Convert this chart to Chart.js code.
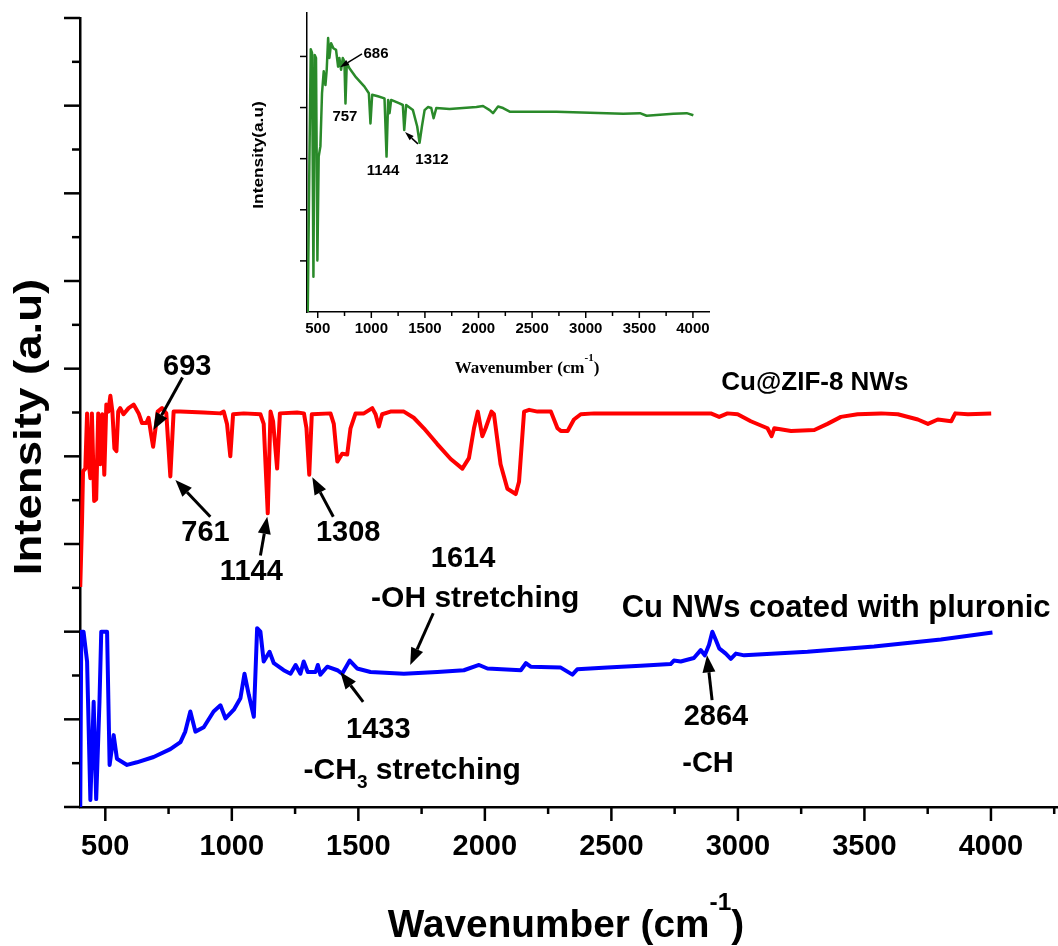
<!DOCTYPE html>
<html>
<head>
<meta charset="utf-8">
<title>FTIR spectra</title>
<script src="https://cdn.jsdelivr.net/npm/chart.js@4.4.0/dist/chart.umd.min.js"></script>
<style>
html, body { margin: 0; padding: 0; background: #fff; }
#wrap { position: relative; width: 1058px; height: 946px; }
#mainChart { position: absolute; left: 0; top: 0; }
#insetChart { position: absolute; left: 230px; top: 0; }
</style>
</head>
<body>
<div id="wrap">
  <canvas id="mainChart" width="1058" height="946"></canvas>
  <canvas id="insetChart" width="500" height="390"></canvas>
</div>
<script>
// ---- data (wavenumber in cm-1, intensity in axis units) ----
const redWn = [401, 408, 412, 421, 428, 434, 441, 447, 456, 464, 472, 480, 488, 496, 504, 512, 520, 528, 536, 544,
  551, 559, 572, 592, 612, 632, 645, 662, 671, 681, 689, 698, 707, 724, 741, 757, 770, 796, 889, 955,
  968, 981, 994, 1005, 1047, 1113, 1126, 1142, 1153, 1163, 1179, 1190, 1258, 1285, 1295, 1306, 1316, 1390, 1403, 1417,
  1436, 1456, 1469, 1489, 1522, 1555, 1568, 1581, 1594, 1627, 1680, 1719, 1759, 1812, 1865, 1911, 1937, 1957, 1972, 1990,
  2003, 2026, 2036, 2062, 2089, 2122, 2135, 2155, 2175, 2208, 2261, 2287, 2300, 2327, 2352, 2379, 2432, 2656, 2893, 2926,
  2959, 2999, 3051, 3117, 3133, 3144, 3210, 3302, 3354, 3407, 3473, 3566, 3632, 3711, 3751, 3790, 3843, 3859, 3909, 4001];
const redInt = [2.51, 3.26, 3.83, 3.86, 4.49, 3.94, 3.75, 4.49, 3.49, 3.51, 4.49, 3.91, 4.48, 3.79, 4.59, 4.51, 4.69, 4.51, 4.09, 4.06,
  4.51, 4.55, 4.48, 4.55, 4.59, 4.49, 4.38, 4.38, 4.44, 4.25, 4.11, 4.31, 4.51, 4.55, 4.49, 3.77, 4.51, 4.51, 4.50, 4.49,
  4.51, 4.37, 4.00, 4.48, 4.49, 4.48, 4.37, 3.35, 4.51, 4.40, 3.86, 4.49, 4.50, 4.49, 4.32, 3.79, 4.48, 4.49, 4.37, 3.94,
  4.03, 4.02, 4.32, 4.49, 4.49, 4.55, 4.48, 4.34, 4.48, 4.51, 4.51, 4.44, 4.32, 4.14, 3.97, 3.86, 3.98, 4.32, 4.51, 4.23,
  4.32, 4.51, 4.48, 3.91, 3.63, 3.57, 3.71, 4.51, 4.53, 4.51, 4.51, 4.32, 4.29, 4.29, 4.42, 4.48, 4.49, 4.49, 4.49, 4.45,
  4.49, 4.48, 4.40, 4.32, 4.23, 4.32, 4.29, 4.30, 4.37, 4.45, 4.48, 4.49, 4.48, 4.42, 4.37, 4.42, 4.40, 4.49, 4.48, 4.49];

const blueWn = [401, 405, 414, 428, 441, 454, 464, 477, 484, 507, 517, 533, 546, 586, 625, 691, 757, 797, 816, 836,
  856, 889, 928, 955, 975, 1008, 1034, 1050, 1067, 1087, 1100, 1113, 1126, 1149, 1166, 1205, 1232, 1252, 1271, 1284,
  1300, 1331, 1340, 1350, 1377, 1417, 1436, 1466, 1495, 1548, 1680, 1812, 1917, 1977, 2010, 2142, 2162, 2181, 2300, 2346,
  2365, 2484, 2616, 2734, 2747, 2774, 2826, 2853, 2869, 2886, 2899, 2912, 2926, 2952, 2972, 2992, 3025, 3275, 3538, 3802, 4006];
const blueInt = [0, 2.0, 2.0, 1.66, 0.08, 1.2, 0.09, 1.2, 2.0, 2.0, 0.48, 0.82, 0.55, 0.48, 0.51, 0.57, 0.66, 0.74, 0.86, 1.09,
  0.86, 0.91, 1.09, 1.16, 1.01, 1.11, 1.24, 1.52, 1.28, 1.03, 2.04, 2.0, 1.66, 1.77, 1.64, 1.56, 1.52, 1.62, 1.52, 1.66,
  1.54, 1.54, 1.62, 1.51, 1.60, 1.56, 1.52, 1.67, 1.58, 1.54, 1.52, 1.54, 1.56, 1.62, 1.58, 1.56, 1.64, 1.60, 1.59, 1.51,
  1.57, 1.59, 1.61, 1.63, 1.67, 1.66, 1.70, 1.79, 1.73, 1.85, 2.0, 1.91, 1.81, 1.75, 1.69, 1.75, 1.73, 1.77, 1.83, 1.91, 1.99];

// inset spectrum
const greenWn = [407, 422, 435, 447, 460, 472, 484, 497, 509, 525, 540, 556, 572, 584, 597, 609, 625, 646, 671, 690,
  702, 718, 734, 749, 759, 771, 796, 858, 936, 977, 992, 1008, 1061, 1123, 1142, 1157, 1170, 1185, 1263, 1294,
  1307, 1325, 1388, 1428, 1450, 1472, 1497, 1528, 1559, 1581, 1606, 1730, 1855, 1980, 2042, 2104, 2135, 2182, 2229, 2291,
  2727, 3039, 3350, 3506, 3568, 3817, 3942, 4004];
const greenInt = [0, 2.84, 5.14, 5.07, 0.69, 5.03, 4.97, 1.01, 3.04, 3.24, 4.28, 4.71, 4.44, 4.74, 5.36, 4.97, 5.26, 5.16, 5.13, 4.80,
  4.97, 4.74, 4.97, 4.90, 4.08, 4.87, 4.77, 4.59, 4.41, 4.28, 3.69, 4.25, 4.22, 4.18, 3.04, 4.15, 3.89, 4.15, 4.08, 4.05,
  3.56, 4.05, 3.95, 3.63, 3.31, 3.63, 3.95, 4.01, 3.99, 3.79, 3.99, 3.97, 3.99, 4.01, 4.03, 3.95, 3.89, 4.02, 3.99, 3.92,
  3.92, 3.90, 3.88, 3.89, 3.84, 3.88, 3.89, 3.85];

// ticks
const xMajorTicks = [500, 1000, 1500, 2000, 2500, 3000, 3500, 4000];
const xMinorTicks = [750, 1250, 1750, 2250, 2750, 3250, 3750, 4250];
const yMajorTicks = [0, 1, 2, 3, 4, 5, 6, 7, 8, 9];
const yMinorTicks = [0.5, 1.5, 2.5, 3.5, 4.5, 5.5, 6.5, 7.5, 8.5];
const insetXMinor = [750, 1250, 1750, 2250, 2750, 3250, 3750];
const insetYTicks = [1, 2, 3, 4, 5];

// annotations (placed in data coordinates)
const mainLabels = [
  { parts: [{ t: '693' }], x: 824, y: 5.05, size: 29 },
  { parts: [{ t: '761' }], x: 896, y: 3.15, size: 29 },
  { parts: [{ t: '1144' }], x: 1077, y: 2.71, size: 29 },
  { parts: [{ t: '1308' }], x: 1460, y: 3.15, size: 29 },
  { parts: [{ t: '1614' }], x: 1914, y: 2.86, size: 29 },
  { parts: [{ t: '-OH stretching' }], x: 1962, y: 2.40, size: 30 },
  { parts: [{ t: '1433' }], x: 1579, y: 0.91, size: 29 },
  { parts: [{ t: '-CH' }, { t: '3', sub: true }, { t: ' stretching' }], x: 1713, y: 0.44, size: 30 },
  { parts: [{ t: '2864' }], x: 2913, y: 1.06, size: 29 },
  { parts: [{ t: '-CH' }], x: 2882, y: 0.52, size: 29 },
  { parts: [{ t: 'Cu NWs coated with pluronic' }], x: 3388, y: 2.30, size: 31 },
  { parts: [{ t: 'Cu@ZIF-8 NWs' }], x: 3304, y: 4.86, size: 26 }
];
const mainArrows = [
  { from: [805, 4.90], to: [690, 4.30] },
  { from: [915, 3.31], to: [777, 3.73] },
  { from: [1113, 2.87], to: [1140, 3.31] },
  { from: [1401, 3.31], to: [1318, 3.76] },
  { from: [1796, 2.21], to: [1705, 1.62] },
  { from: [1519, 1.20], to: [1429, 1.54] },
  { from: [2898, 1.22], to: [2878, 1.73] }
];
const insetLabels = [
  { parts: [{ t: '686' }], x: 1044, y: 5.07, size: 15 },
  { parts: [{ t: '757' }], x: 754, y: 3.84, size: 15 },
  { parts: [{ t: '1144' }], x: 1109, y: 2.78, size: 15 },
  { parts: [{ t: '1312' }], x: 1566, y: 3.01, size: 15 }
];
const insetArrows = [
  { from: [913, 5.05], to: [708, 4.79] },
  { from: [1435, 3.29], to: [1314, 3.52] }
];

const SANS = '"Liberation Sans", Arial, Helvetica, sans-serif';
const SERIF = '"Liberation Serif", "Times New Roman", serif';

function toPoints(xs, ys) {
  return xs.map((x, i) => ({ x: x, y: ys[i] }));
}

function drawParts(ctx, parts, cx, baseY, size, family, stretch) {
  const small = Math.round(size * 0.62);
  const fontOf = p => 'bold ' + ((p.sub || p.sup) ? small : size) + 'px ' + family;
  let total = 0;
  const widths = parts.map(p => {
    ctx.font = fontOf(p);
    const w = ctx.measureText(p.t).width;
    total += w;
    return w;
  });
  ctx.save();
  ctx.translate(cx, baseY);
  ctx.scale(stretch || 1, 1);
  ctx.textAlign = 'left';
  ctx.textBaseline = 'alphabetic';
  let x = -total / 2;
  parts.forEach((p, i) => {
    ctx.font = fontOf(p);
    let dy = 0;
    if (p.sup) dy = -size * 0.72;
    if (p.sub) dy = size * 0.28;
    ctx.fillText(p.t, x, dy);
    x += widths[i];
  });
  ctx.restore();
  return total;
}

function drawArrow(ctx, x1, y1, x2, y2, lw, headLen, headW) {
  const ang = Math.atan2(y2 - y1, x2 - x1);
  const bx = x2 - headLen * Math.cos(ang), by = y2 - headLen * Math.sin(ang);
  ctx.lineWidth = lw;
  ctx.beginPath();
  ctx.moveTo(x1, y1);
  ctx.lineTo(bx, by);
  ctx.stroke();
  ctx.beginPath();
  ctx.moveTo(x2, y2);
  ctx.lineTo(bx + headW / 2 * Math.sin(ang), by - headW / 2 * Math.cos(ang));
  ctx.lineTo(bx - headW / 2 * Math.sin(ang), by + headW / 2 * Math.cos(ang));
  ctx.closePath();
  ctx.fill();
}

// tick marks, annotations and axis titles
const decorPlugin = {
  id: 'decor',
  afterDraw(chart, args, o) {
    const ctx = chart.ctx, xs = chart.scales.x, ys = chart.scales.y, area = chart.chartArea;
    ctx.save();
    ctx.strokeStyle = '#000';
    ctx.fillStyle = '#000';
    ctx.lineWidth = o.tickWidth;
    const xTick = (v, len) => {
      const px = xs.getPixelForValue(v);
      ctx.beginPath(); ctx.moveTo(px, area.bottom); ctx.lineTo(px, area.bottom + len); ctx.stroke();
    };
    const yTick = (v, len) => {
      const py = ys.getPixelForValue(v);
      ctx.beginPath(); ctx.moveTo(area.left, py); ctx.lineTo(area.left - len, py); ctx.stroke();
    };
    o.xMajor.forEach(v => xTick(v, o.xMajorLen));
    o.xMinor.forEach(v => xTick(v, o.xMinorLen));
    o.yMajor.forEach(v => yTick(v, o.yMajorLen));
    o.yMinor.forEach(v => yTick(v, o.yMinorLen));

    o.labels.forEach(l => {
      const px = xs.getPixelForValue(l.x), py = ys.getPixelForValue(l.y);
      drawParts(ctx, l.parts, px, py + l.size * 0.36, l.size, SANS);
    });
    ctx.lineCap = 'butt';
    o.arrows.forEach(a => {
      drawArrow(ctx, xs.getPixelForValue(a.from[0]), ys.getPixelForValue(a.from[1]),
        xs.getPixelForValue(a.to[0]), ys.getPixelForValue(a.to[1]), o.arrowWidth, o.headLen, o.headW);
    });

    // x title
    const xt = o.xTitle;
    ctx.font = 'bold ' + xt.size + 'px ' + xt.family;
    drawParts(ctx, xt.parts, (area.left + area.right) / 2 + xt.dx, xt.baseY, xt.size, xt.family, xt.stretch);
    // y title
    const yt = o.yTitle;
    ctx.save();
    ctx.translate(yt.baseX, yt.centerY);
    ctx.rotate(-Math.PI / 2);
    drawParts(ctx, yt.parts, 0, 0, yt.size, yt.family, yt.stretch);
    ctx.restore();
    ctx.restore();
  }
};

new Chart(document.getElementById('mainChart'), {
  type: 'line',
  data: {
    datasets: [
      { label: 'Cu@ZIF-8 NWs', data: toPoints(redWn, redInt), borderColor: '#ff0000', borderWidth: 4,
        pointRadius: 0, tension: 0, borderJoinStyle: 'round' },
      { label: 'Cu NWs coated with pluronic', data: toPoints(blueWn, blueInt), borderColor: '#0000ff', borderWidth: 4,
        pointRadius: 0, tension: 0, borderJoinStyle: 'round' }
    ]
  },
  options: {
    responsive: false,
    animation: false,
    events: [],
    layout: { padding: { top: 18, right: 0, left: 0, bottom: 0 } },
    plugins: {
      legend: { display: false },
      tooltip: { enabled: false },
      decor: {
        tickWidth: 2.5,
        xMajor: xMajorTicks, xMinor: xMinorTicks, xMajorLen: 14, xMinorLen: 7,
        yMajor: yMajorTicks, yMinor: yMinorTicks, yMajorLen: 16, yMinorLen: 8,
        labels: mainLabels, arrows: mainArrows, arrowWidth: 3, headLen: 17, headW: 13,
        xTitle: { parts: [{ t: 'Wavenumber (cm' }, { t: '-1', sup: true }, { t: ')' }], size: 38, family: SANS,
          baseY: 937, dx: -3, stretch: 1.02 },
        yTitle: { parts: [{ t: 'Intensity (a.u)' }], size: 38, family: SANS, baseX: 41, centerY: 427, stretch: 1.2 }
      }
    },
    scales: {
      x: {
        type: 'linear', min: 400, max: 4265,
        grid: { display: false, drawTicks: false },
        border: { display: true, color: '#000', width: 2.5 },
        afterBuildTicks: s => { s.ticks = xMajorTicks.map(v => ({ value: v })); },
        afterFit: s => { s.height = 139; },
        ticks: { padding: 23, color: '#000', maxRotation: 0, autoSkip: false,
          font: { family: SANS, size: 29, weight: 'bold' }, callback: v => String(v) }
      },
      y: {
        min: 0, max: 9,
        grid: { display: false, drawTicks: false },
        border: { display: true, color: '#000', width: 2.5 },
        ticks: { display: false },
        afterFit: s => { s.width = 80; }
      }
    }
  },
  plugins: [decorPlugin]
});

new Chart(document.getElementById('insetChart'), {
  type: 'line',
  data: {
    datasets: [
      { label: 'Cu@ZIF-8', data: toPoints(greenWn, greenInt), borderColor: '#2a8a2a', borderWidth: 2.5,
        pointRadius: 0, tension: 0, borderJoinStyle: 'round' }
    ]
  },
  options: {
    responsive: false,
    animation: false,
    events: [],
    layout: { padding: { top: 13, right: 21, left: 0, bottom: 0 } },
    plugins: {
      legend: { display: false },
      tooltip: { enabled: false },
      decor: {
        tickWidth: 1.5,
        xMajor: xMajorTicks, xMinor: insetXMinor, xMajorLen: 6, xMinorLen: 4,
        yMajor: insetYTicks, yMinor: [], yMajorLen: 7, yMinorLen: 4,
        labels: insetLabels, arrows: insetArrows, arrowWidth: 1.5, headLen: 9, headW: 6,
        xTitle: { parts: [{ t: 'Wavenumber (cm' }, { t: '-1', sup: true }, { t: ')' }], size: 17, family: SERIF,
          baseY: 373, dx: 19, stretch: 1.0 },
        yTitle: { parts: [{ t: 'Intensity(a.u)' }], size: 15, family: SANS, baseX: 33, centerY: 155, stretch: 1.15 }
      }
    },
    scales: {
      x: {
        type: 'linear', min: 400, max: 4150,
        grid: { display: false, drawTicks: false },
        border: { display: true, color: '#000', width: 1.5 },
        afterBuildTicks: s => { s.ticks = xMajorTicks.map(v => ({ value: v })); },
        afterFit: s => { s.height = 78; },
        ticks: { padding: 8, color: '#000', maxRotation: 0, autoSkip: false,
          font: { family: SANS, size: 15, weight: 'bold' }, callback: v => String(v) }
      },
      y: {
        min: 0, max: 5.85,
        grid: { display: false, drawTicks: false },
        border: { display: true, color: '#000', width: 1.5 },
        ticks: { display: false },
        afterFit: s => { s.width = 77; }
      }
    }
  },
  plugins: [decorPlugin]
});
</script>
</body>
</html>
